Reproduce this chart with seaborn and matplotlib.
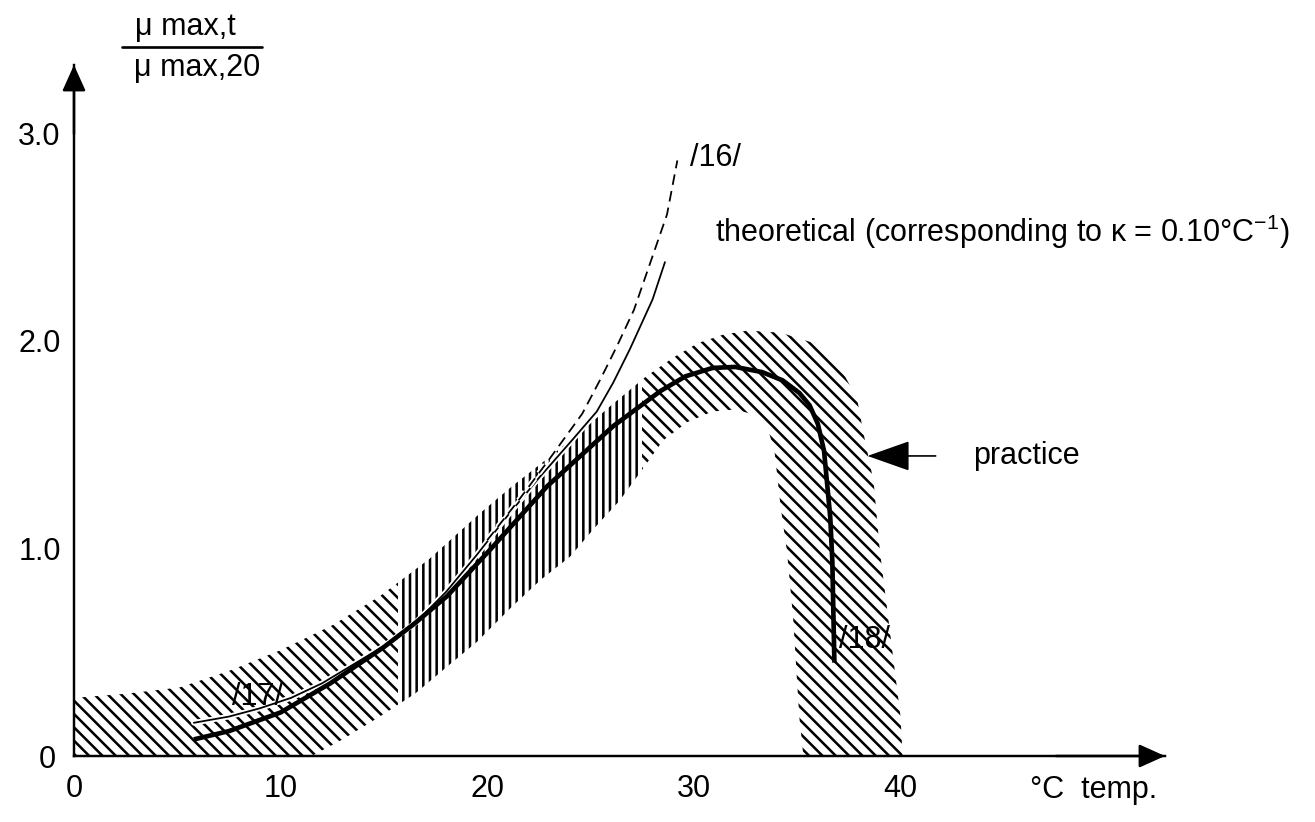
import numpy as np
import matplotlib.pyplot as plt
import matplotlib.patheffects as pe
from matplotlib.patches import Rectangle
from matplotlib.lines import Line2D
import seaborn as sns

# ---- data (temperature in deg C, ratio mu_max,t / mu_max,20) ----
# practice curve (thick solid line)
practice_t = [5.8, 7.5, 10.0, 12.4, 15.0, 16.5, 18.05, 20.1, 22.9, 26.1, 28.4, 29.6, 30.9, 32.0, 33.3,
              34.3, 35.1, 35.6, 36.0, 36.3, 36.6, 36.7, 36.8]
practice_mu = [0.08, 0.12, 0.21, 0.35, 0.525, 0.64, 0.77, 0.99, 1.30, 1.59, 1.76, 1.83, 1.87, 1.875, 1.85,
               1.81, 1.75, 1.69, 1.60, 1.47, 1.15, 0.94, 0.45]

# theoretical curve /17/ (thin solid line)
theory_t = [5.8, 7.5, 9.0, 10.5, 12.0, 13.5, 15.0, 16.5, 18.0, 19.5, 21.0, 22.5, 24.0, 25.3, 26.1, 26.9, 28.0, 28.6]
theory_mu = [0.16, 0.19, 0.23, 0.28, 0.35, 0.44, 0.53, 0.64, 0.79, 0.97, 1.16, 1.34, 1.51, 1.66, 1.80, 1.96, 2.20, 2.38]

# curve /16/ (dashed line)
dashed_t = [20.0, 21.5, 23.0, 24.6, 25.5, 26.3, 27.1, 27.9, 28.7, 29.2]
dashed_mu = [1.04, 1.23, 1.43, 1.65, 1.82, 1.98, 2.15, 2.38, 2.61, 2.87]

# hatched "practice" band: upper edge (left -> right) and lower edge (left -> right)
band_up_t = [0.0, 2.5, 5.1, 7.5, 10.0, 12.5, 14.8, 17.2, 19.65, 21.2, 23.0, 24.5, 26.0, 27.7, 29.0, 30.2,
             31.4, 32.6, 34.2, 35.8, 37.1, 37.9, 38.2, 38.7, 39.0, 39.4, 40.0, 40.1]
band_up_mu = [0.28, 0.30, 0.33, 0.41, 0.51, 0.63, 0.77, 0.95, 1.17, 1.30, 1.44, 1.56, 1.69, 1.83, 1.92, 1.99,
              2.03, 2.05, 2.04, 1.99, 1.87, 1.72, 1.56, 1.32, 0.99, 0.67, 0.19, 0.0]
band_lo_t = [0.0, 11.5, 13.0, 14.8, 16.5, 18.05, 19.5, 21.2, 22.6, 24.0, 25.2, 26.4, 27.5, 28.5, 29.7, 30.9,
             32.0, 33.1, 33.6, 33.9, 34.2, 34.5, 34.8, 35.1, 35.3]
band_lo_mu = [0.0, 0.0, 0.08, 0.19, 0.30, 0.43, 0.55, 0.72, 0.85, 0.96, 1.10, 1.23, 1.38, 1.52, 1.61, 1.66,
              1.67, 1.64, 1.57, 1.47, 1.20, 0.99, 0.67, 0.19, 0.0]

x_tick_marks = [10, 15, 20, 25, 30, 35]
x_tick_labels = ['10', '', '20', '', '30', '']
x_extra_ticks = [0, 40]
x_extra_labels = ['0', '40']
y_tick_marks = [1.0, 2.0, 3.0]
y_tick_labels = ['1.0', '2.0', '3.0']

# ---- style ----
DPI = 80
sns.set_theme(style='white')
plt.rcParams['font.family'] = ['Liberation Sans', 'DejaVu Sans']
plt.rcParams['text.color'] = 'black'
plt.rcParams['mathtext.fontset'] = 'custom'
plt.rcParams['mathtext.rm'] = 'Liberation Sans'
plt.rcParams['hatch.linewidth'] = 2.3
plt.rcParams['hatch.color'] = 'black'
FS = 27.5

fig = plt.figure(figsize=(1315 / DPI, 822 / DPI), dpi=DPI)
W, H = 1315, 822
ax = fig.add_axes([74 / W, (H - 756) / H, (1165 - 74) / W, (756 - 65) / H])
ax.set_xlim(0, 52.8)
ax.set_ylim(0, 3.33)
ax.set_facecolor('white')

for s in ['top', 'right']:
    ax.spines[s].set_visible(False)
for s in ['left', 'bottom']:
    ax.spines[s].set_color('black')
    ax.spines[s].set_linewidth(2.2)

# hatched band, split in zones: the hatch is nearly vertical along the rising part
band_t = band_up_t + band_lo_t[::-1]
band_mu = band_up_mu + band_lo_mu[::-1]
zones = [(-1, 15.7, '\\\\'), (15.7, 27.5, '||'), (27.5, 60, '\\\\')]
for x0, x1, hatch in zones:
    polys = ax.fill(band_t, band_mu, facecolor='none', edgecolor='black', linewidth=0, hatch=hatch)
    clip = Rectangle((x0, -1), x1 - x0, 10, transform=ax.transData)
    for p in polys:
        p.set_clip_path(clip)

halo = [pe.Stroke(linewidth=5, foreground='white'), pe.Normal()]
sns.lineplot(x=theory_t, y=theory_mu, ax=ax, color='black', lw=1.6, path_effects=halo)
sns.lineplot(x=dashed_t, y=dashed_mu, ax=ax, color='black', lw=1.6,
             linestyle=(0, (6, 3.5)), path_effects=halo)
sns.lineplot(x=practice_t, y=practice_mu, ax=ax, color='black', lw=4.2, solid_capstyle='butt',
             solid_joinstyle='round')

# ticks
ax.set_xticks(x_tick_marks, labels=x_tick_labels)
ax.set_xticks(x_extra_ticks, labels=x_extra_labels, minor=True)
ax.set_yticks(y_tick_marks, labels=y_tick_labels)
ax.set_yticks([0], labels=['0'], minor=True)
ax.tick_params(axis='x', which='major', direction='in', length=18, width=1.8, color='black',
               pad=16, labelsize=FS, labelcolor='black')
ax.tick_params(axis='x', which='minor', length=0, pad=16, labelsize=FS, labelcolor='black')
ax.tick_params(axis='y', which='major', direction='in', length=18, width=1.8, color='black',
               pad=12, labelsize=FS, labelcolor='black')
ax.tick_params(axis='y', which='minor', length=0, pad=16, labelsize=FS, labelcolor='black')
ax.grid(False)

# axis arrows
arr = dict(arrowstyle='-|>,head_length=1.0,head_width=0.45', mutation_scale=20, color='black',
           lw=2.2, shrinkA=0, shrinkB=0)
ax.annotate('', xy=(0, 1), xytext=(0, 0.9), xycoords='axes fraction', arrowprops=arr, annotation_clip=False)
ax.annotate('', xy=(1, 0), xytext=(0.9, 0), xycoords='axes fraction', arrowprops=arr, annotation_clip=False)

# annotations
ax.text(29.8, 2.88, '/16/', fontsize=FS, ha='left', va='center')
ax.text(7.65, 0.285, '/17/', fontsize=FS, ha='left', va='center')
ax.text(37.0, 0.56, '/18/', fontsize=FS, ha='left', va='center')
ax.text(31.0, 2.525, 'theoretical (corresponding to \u03ba = 0.10\u00b0C$^{-1}$)', fontsize=FS,
        ha='left', va='center')
ax.text(43.5, 1.446, 'practice', fontsize=FS, ha='left', va='center')
ax.annotate('', xy=(38.4, 1.446), xytext=(41.7, 1.446),
            arrowprops=dict(arrowstyle='-|>,head_length=1.7,head_width=0.6', mutation_scale=20,
                            color='black', lw=1.5, shrinkA=0, shrinkB=0))

# y-axis label as a fraction
fig.text(185 / W, 1 - 27 / H, '\u03bc max,t', fontsize=FS, ha='center', va='center')
fig.text(197 / W, 1 - 68 / H, '\u03bc max,20', fontsize=FS, ha='center', va='center')
fig.add_artist(Line2D([122 / W, 262 / W], [1 - 47 / H, 1 - 47 / H], transform=fig.transFigure,
                      color='black', lw=2.4))

# x-axis label
fig.text(1030 / W, 1 - 790 / H, '\u00b0C  temp.', fontsize=FS, ha='left', va='center')

fig.savefig('out.png', dpi=DPI, facecolor='white')
